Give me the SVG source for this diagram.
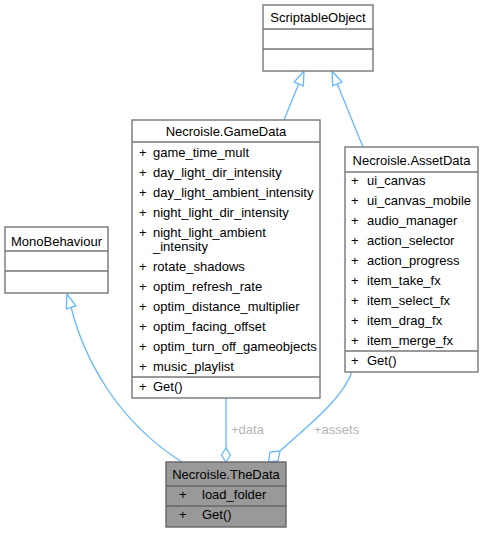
<svg xmlns="http://www.w3.org/2000/svg" width="483" height="533" viewBox="0 0 483 533">
<style>
text{font-family:"Liberation Sans",Arial,sans-serif;font-size:13px;fill:#000}
.box{fill:#fff;stroke:#777;stroke-width:1.4}
.hl{fill:#999;stroke:#666;stroke-width:1.4}
.sep{stroke:#777;stroke-width:1.4}
.c{text-anchor:middle}
.e{fill:none;stroke:#63b8ff;stroke-width:1.3}
.ah{fill:#fff;stroke:#63b8ff;stroke-width:1.3}
.lbl{fill:#b4b4b4}
</style>
<rect width="483" height="533" fill="#fff"/>
<g id="connectors">
<path class="e" d="M284,120 L298.7,84"/>
<polygon class="ah" points="304,71 303.3,85.9 294.1,82.1"/>
<path class="e" d="M363,147 L337.3,84"/>
<polygon class="ah" points="332,71 341.9,82.1 332.7,85.9"/>
<path class="e" d="M71,307 C83,355 115,420 182,462"/>
<polygon class="ah" points="67,294 75.9,305.9 66.3,308.9"/>
<path class="e" d="M226,398 L226,448"/>
<polygon class="ah" points="226,462 230.5,455 226,448 221.5,455"/>
<text class="lbl" x="231" y="434">+data</text>
<path class="e" d="M352,372 C342,400 305,428 280,451"/>
<polygon class="ah" points="268.5,462 270,452 280,451 278,461"/>
<text class="lbl" x="314" y="434">+assets</text>
</g>
<g id="ScriptableObject">
<rect class="box" x="263" y="5" width="110" height="66"/>
<line class="sep" x1="263" y1="29" x2="373" y2="29"/>
<line class="sep" x1="263" y1="49" x2="373" y2="49"/>
<text class="c" x="318" y="21.5">ScriptableObject</text>
</g>
<g id="MonoBehaviour">
<rect class="box" x="5" y="227" width="103" height="66"/>
<line class="sep" x1="5" y1="251" x2="108" y2="251"/>
<line class="sep" x1="5" y1="271" x2="108" y2="271"/>
<text class="c" x="56.5" y="246">MonoBehaviour</text>
</g>
<g id="GameData">
<rect class="box" x="132" y="120" width="188" height="278"/>
<line class="sep" x1="132" y1="142" x2="320" y2="142"/>
<line class="sep" x1="132" y1="377" x2="320" y2="377"/>
<text class="c" x="226" y="136">Necroisle.GameData</text>
<text x="139" y="157">+</text><text x="153" y="157">game_time_mult</text>
<text x="139" y="177">+</text><text x="153" y="177">day_light_dir_intensity</text>
<text x="139" y="197">+</text><text x="153" y="197">day_light_ambient_intensity</text>
<text x="139" y="217">+</text><text x="153" y="217">night_light_dir_intensity</text>
<text x="139" y="237">+</text><text x="153" y="237">night_light_ambient</text>
<text x="153" y="251">_intensity</text>
<text x="139" y="271">+</text><text x="153" y="271">rotate_shadows</text>
<text x="139" y="291">+</text><text x="153" y="291">optim_refresh_rate</text>
<text x="139" y="311">+</text><text x="153" y="311">optim_distance_multiplier</text>
<text x="139" y="331">+</text><text x="153" y="331">optim_facing_offset</text>
<text x="139" y="351">+</text><text x="153" y="351">optim_turn_off_gameobjects</text>
<text x="139" y="371">+</text><text x="153" y="371">music_playlist</text>
<text x="139" y="391">+</text><text x="153" y="391">Get()</text>
</g>
<g id="AssetData">
<rect class="box" x="345" y="147" width="133" height="225"/>
<line class="sep" x1="345" y1="172" x2="478" y2="172"/>
<line class="sep" x1="345" y1="351" x2="478" y2="351"/>
<text class="c" x="411.5" y="164.5">Necroisle.AssetData</text>
<text x="351" y="184.5">+</text><text x="367" y="184.5">ui_canvas</text>
<text x="351" y="204.5">+</text><text x="367" y="204.5">ui_canvas_mobile</text>
<text x="351" y="224.5">+</text><text x="367" y="224.5">audio_manager</text>
<text x="351" y="244.5">+</text><text x="367" y="244.5">action_selector</text>
<text x="351" y="264.5">+</text><text x="367" y="264.5">action_progress</text>
<text x="351" y="284.5">+</text><text x="367" y="284.5">item_take_fx</text>
<text x="351" y="304.5">+</text><text x="367" y="304.5">item_select_fx</text>
<text x="351" y="324.5">+</text><text x="367" y="324.5">item_drag_fx</text>
<text x="351" y="344.5">+</text><text x="367" y="344.5">item_merge_fx</text>
<text x="351" y="364.5">+</text><text x="367" y="364.5">Get()</text>
</g>
<g id="TheData">
<rect class="hl" x="166" y="462" width="120" height="65"/>
<line class="sep" x1="166" y1="486" x2="286" y2="486" style="stroke:#666"/>
<line class="sep" x1="166" y1="506" x2="286" y2="506" style="stroke:#666"/>
<text class="c" x="226" y="479">Necroisle.TheData</text>
<text x="179" y="499">+</text><text x="202" y="499">load_folder</text>
<text x="179" y="519">+</text><text x="202" y="519">Get()</text>
</g>
</svg>
